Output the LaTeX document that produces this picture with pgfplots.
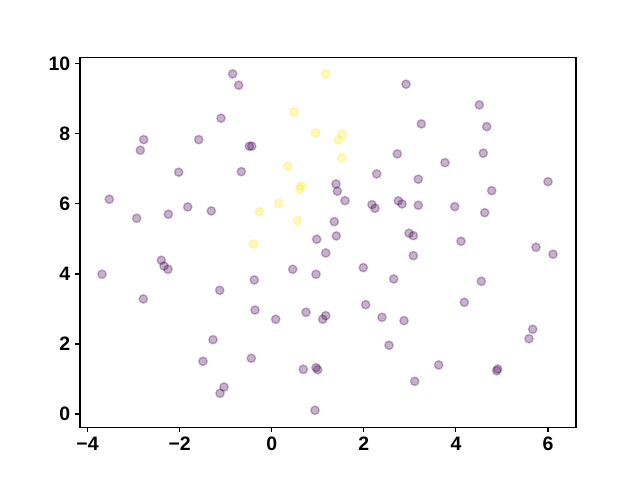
\documentclass[border=0pt]{standalone}
\usepackage{fontspec}
\setmainfont{Liberation Sans}
\usepackage{pgfplots}
\pgfplotsset{compat=1.18}
\definecolor{vpurple}{HTML}{440154}
\definecolor{vyellow}{HTML}{FDE725}
\begin{document}
\begin{tikzpicture}
\begin{axis}[
  scale only axis,
  width=357.1pt, height=266.1pt,
  xmin=-4.163, xmax=6.608,
  ymin=-0.377, ymax=10.18,
  xtick={-4,-2,0,2,4,6},
  xticklabels={−4,−2,0,2,4,6},
  ytick={0,2,4,6,8,10},
  yticklabels={0,2,4,6,8,10},
  tick align=outside,
  tick pos=left,
  major tick length=3.5pt,
  every tick/.style={line width=0.8pt, black},
  axis line style={line width=0.8pt},
  ticklabel style={font=\bfseries\fontsize{14}{16}\selectfont},
  clip=false,
]
\coordinate (ll) at (rel axis cs:0,0);
\coordinate (ur) at (rel axis cs:1,1);
% purple points
\addplot[only marks, mark=*, mark size=3pt, color=vpurple, fill opacity=0.3, draw opacity=0.3, mark options={line width=1pt}] coordinates {
(-0.847,9.714) (-0.717,9.391) (-1.101,8.449) (-2.780,7.837) (-2.853,7.534)
(-1.585,7.837) (-2.020,6.906) (-0.660,6.923) (-3.527,6.134) (-2.932,5.591)
(-2.245,5.706) (-1.824,5.914) (-1.312,5.800) (2.916,9.420) (-0.486,7.649)
(-0.434,7.649) (2.727,7.429) (2.280,6.857) (1.396,6.571) (1.425,6.363)
(1.592,6.094) (2.178,5.980) (2.243,5.877) (2.749,6.086) (2.830,6.000)
(1.359,5.494) (0.977,4.991) (1.403,5.086) (4.508,8.829) (3.249,8.286)
(4.669,8.209) (4.595,7.449) (3.763,7.180) (3.183,6.706) (6.000,6.637)
(4.777,6.380) (3.183,5.963) (3.974,5.923) (4.625,5.751) (2.982,5.163)
(3.075,5.094) (4.111,4.934) (5.739,4.763) (-2.397,4.391) (-2.339,4.229)
(-2.252,4.134) (-3.685,3.991) (-2.788,3.286) (-1.129,3.534) (-1.275,2.123)
(-1.492,1.506) (-1.036,0.771) (-1.123,0.591) (1.173,4.600) (0.456,4.134)
(0.962,3.991) (1.989,4.180) (2.649,3.857) (-0.378,3.829) (-0.363,2.971)
(0.087,2.706) (0.745,2.906) (1.173,2.809) (1.107,2.706) (2.041,3.123)
(2.395,2.763) (2.873,2.666) (2.547,1.963) (-0.443,1.591) (0.686,1.277)
(0.962,1.323) (0.999,1.266) (0.940,0.106) (6.109,4.563) (3.075,4.523)
(4.552,3.791) (4.182,3.191) (5.668,2.420) (5.587,2.151) (3.626,1.400)
(3.105,0.934) (4.908,1.286) (4.886,1.237)
};
% yellow points
\addplot[only marks, mark=*, mark size=3pt, color=vyellow, fill opacity=0.3, draw opacity=0.3, mark options={line width=1pt}] coordinates {
(1.173,9.714) (0.484,8.629) (0.947,8.029) (1.533,7.991) (1.446,7.829)
(1.520,7.314) (0.347,7.077) (0.636,6.514) (0.608,6.429) (0.152,6.020)
(-0.269,5.780) (0.556,5.523) (-0.400,4.857)
};
\end{axis}
\path[use as bounding box] ([xshift=-57.6pt,yshift=-38.02pt]ll) rectangle ([xshift=46.08pt,yshift=41.47pt]ur);
\end{tikzpicture}
\end{document}
